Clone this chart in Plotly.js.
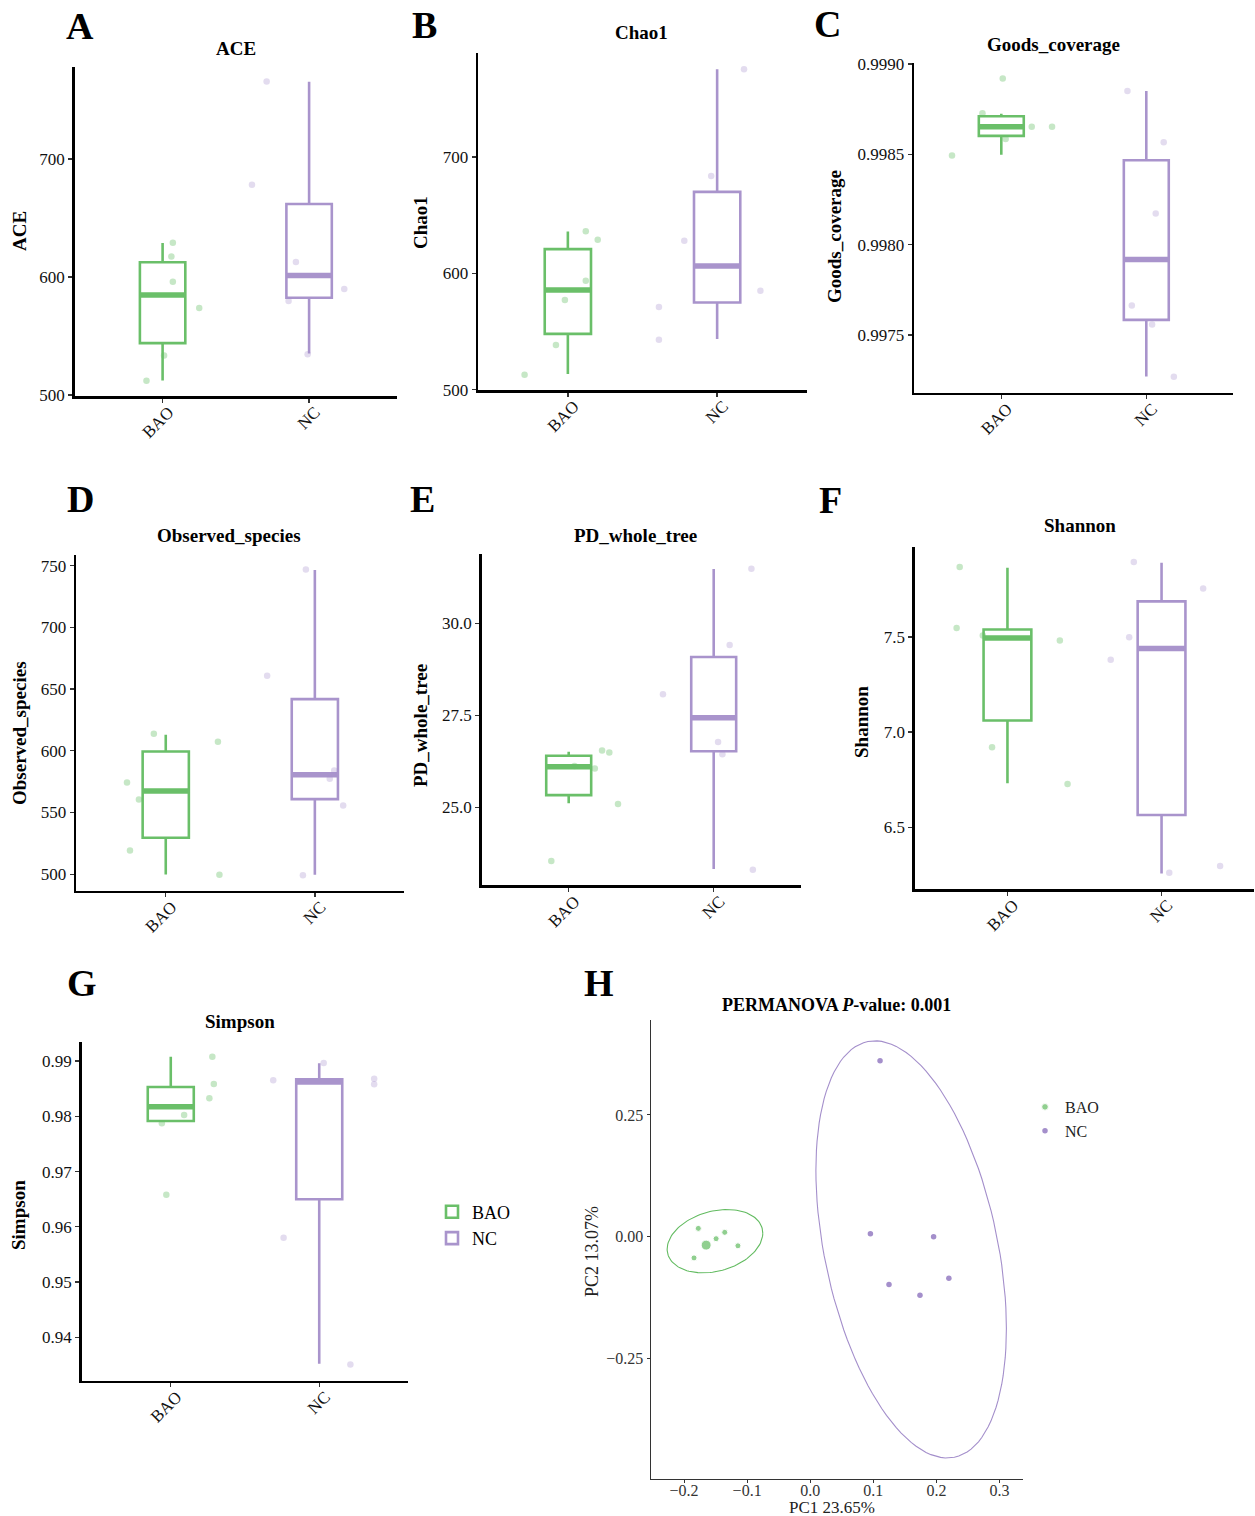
<!DOCTYPE html>
<html><head><meta charset="utf-8">
<script src="https://cdn.plot.ly/plotly-3.0.1.min.js"></script>
<style>html,body{margin:0;padding:0;background:#fff}#chart{width:1255px;height:1516px}</style>
</head><body><div id="chart"></div>
<script>
// ---------- DATA ----------
const groups = ['BAO', 'NC'];
// box stats: [lower whisker, Q1, median, Q3, upper whisker]
const aceBAO = [512.4, 544.0, 584.7, 612.5, 628.8];
const aceNC = [535.3, 582.5, 601.4, 661.9, 765.5];
const aceBAOpts = [629.0, 617.5, 596.0, 573.7, 533.6, 512.1];
const aceBAOjit = [0.07, 0.06, 0.07, 0.25, 0.01, -0.11];
const aceNCpts = [765.8, 678.2, 612.7, 589.8, 579.7, 534.5];
const aceNCjit = [-0.29, -0.39, -0.09, 0.24, -0.14, -0.01];
const aceTicks = [500, 600, 700];
const aceTickLabels = ['500', '600', '700'];

const chaoBAO = [513.5, 548.0, 585.6, 620.8, 635.9];
const chaoNC = [543.5, 575.0, 606.4, 670.0, 775.3];
const chaoBAOpts = [636.2, 628.8, 593.6, 577.0, 538.4, 512.9];
const chaoBAOjit = [0.12, 0.20, 0.12, -0.02, -0.08, -0.29];
const chaoNCpts = [775.3, 683.7, 627.9, 585.0, 571.0, 542.9];
const chaoNCjit = [0.18, -0.04, -0.22, 0.29, -0.39, -0.39];
const chaoTicks = [500, 600, 700];
const chaoTickLabels = ['500', '600', '700'];

const goodsBAO = [0.998498, 0.998602, 0.998652, 0.998711, 0.998724];
const goodsNC = [0.997270, 0.997583, 0.997917, 0.998467, 0.998850];
const goodsBAOpts = [0.998920, 0.998728, 0.998652, 0.998652, 0.998585, 0.998493];
const goodsBAOjit = [0.01, -0.13, 0.21, 0.35, 0.03, -0.34];
const goodsNCpts = [0.998851, 0.998567, 0.998172, 0.997663, 0.997557, 0.997268];
const goodsNCjit = [-0.13, 0.12, 0.065, -0.10, 0.04, 0.19];
const goodsTicks = [0.9975, 0.9980, 0.9985, 0.9990];
const goodsTickLabels = ['0.9975', '0.9980', '0.9985', '0.9990'];

const obsBAO = [499.8, 529.5, 567.3, 599.4, 613.0];
const obsNC = [499.5, 560.8, 580.6, 641.8, 746.4];
const obsBAOpts = [613.8, 607.3, 574.3, 560.5, 519.2, 499.5];
const obsBAOjit = [-0.08, 0.35, -0.26, -0.18, -0.24, 0.36];
const obsNCpts = [746.8, 660.7, 584.0, 577.3, 555.7, 499.1];
const obsNCjit = [-0.06, -0.32, 0.13, 0.10, 0.19, -0.08];
const obsTicks = [500, 550, 600, 650, 700, 750];
const obsTickLabels = ['500', '550', '600', '650', '700', '750'];

const pdBAO = [25.11, 25.33, 26.10, 26.40, 26.51];
const pdNC = [23.32, 26.52, 27.43, 29.08, 31.47];
const pdBAOpts = [26.54, 26.49, 26.05, 26.12, 25.09, 23.54];
const pdBAOjit = [0.23, 0.28, 0.18, 0.04, 0.34, -0.12];
const pdNCpts = [31.48, 29.41, 28.07, 26.77, 26.44, 23.30];
const pdNCjit = [0.26, 0.11, -0.35, 0.03, 0.06, 0.27];
const pdTicks = [25.0, 27.5, 30.0];
const pdTickLabels = ['25.0', '27.5', '30.0'];

const shanBAO = [6.731, 7.061, 7.495, 7.539, 7.864];
const shanNC = [6.258, 6.565, 7.439, 7.687, 7.890];
const shanBAOpts = [7.867, 7.547, 7.507, 7.481, 6.920, 6.727];
const shanBAOjit = [-0.31, -0.33, -0.16, 0.34, -0.10, 0.39];
const shanNCpts = [7.894, 7.754, 7.498, 7.380, 6.297, 6.262];
const shanNCjit = [-0.18, 0.27, -0.21, -0.33, 0.38, 0.05];
const shanTicks = [6.5, 7.0, 7.5];
const shanTickLabels = ['6.5', '7.0', '7.5'];

const simpBAO = [0.9789, 0.97915, 0.98174, 0.98530, 0.99078];
const simpNC = [0.93520, 0.96499, 0.98620, 0.98669, 0.98958];
const simpBAOpts = [0.99078, 0.98584, 0.98325, 0.98024, 0.97873, 0.96582];
const simpBAOjit = [0.28, 0.29, 0.26, 0.09, -0.06, -0.03];
const simpNCpts = [0.98964, 0.98651, 0.98680, 0.98578, 0.95801, 0.93510];
const simpNCjit = [0.03, -0.31, 0.37, 0.37, -0.24, 0.21];
const simpTicks = [0.94, 0.95, 0.96, 0.97, 0.98, 0.99];
const simpTickLabels = ['0.94', '0.95', '0.96', '0.97', '0.98', '0.99'];

// PCoA
const pcoaBAOx = [-0.1774, -0.1355, -0.1492, -0.1650, -0.1146, -0.1842];
const pcoaBAOy = [0.0167, 0.0086, -0.0045, -0.0177, -0.0191, -0.0440];
const pcoaNCx = [0.1107, 0.0954, 0.1956, 0.2198, 0.1249, 0.1740];
const pcoaNCy = [0.3615, 0.0059, -0.0006, -0.0858, -0.0989, -0.1209];
// ellipse: [centre x, centre y, x half-extent, y half-extent, correlation]
const baoEllipse = [-0.151, -0.0096, 0.0758, 0.0651, 0.253];
const ncEllipse = [0.160, -0.0265, 0.151, 0.429, -0.379];
const pcoaXTicks = [-0.2, -0.1, 0.0, 0.1, 0.2, 0.3];
const pcoaXTickLabels = ['\u22120.2', '\u22120.1', '0.0', '0.1', '0.2', '0.3'];
const pcoaYTicks = [-0.25, 0.0, 0.25];
const pcoaYTickLabels = ['\u22120.25', '0.00', '0.25'];

// ---------- STYLE / LAYOUT ----------
const W = 1255, H = 1516;
const SERIF = 'Liberation Serif, Times New Roman, serif';
const lineCol = ['#6abf69', '#a994cc'];
const ptCol = ['rgba(106,191,105,0.38)', 'rgba(169,147,204,0.32)'];
const pcoaCol = ['#62bb60', '#a48fcb'];
const BOXW = 0.31;

const fx = p => p / W;
const fy = p => 1 - p / H;

const panels = [
  {L:'A', title:'ACE', ylab:'ACE', box:[aceBAO, aceNC], pts:[aceBAOpts, aceNCpts], jit:[aceBAOjit, aceNCjit],
   ticks:aceTicks, tl:aceTickLabels, yr:[499.2, 778], dom:[74.7, 397, 67, 396], lp:[80, 26], tp:[236, 48], yp:[19, 231]},
  {L:'B', title:'Chao1', ylab:'Chao1', box:[chaoBAO, chaoNC], pts:[chaoBAOpts, chaoNCpts], jit:[chaoBAOjit, chaoNCjit],
   ticks:chaoTicks, tl:chaoTickLabels, yr:[499.8, 789], dom:[478.3, 806.7, 53.3, 390], lp:[425, 25], tp:[641, 33], yp:[420, 223]},
  {L:'C', title:'Goods_coverage', ylab:'Goods_coverage', box:[goodsBAO, goodsNC], pts:[goodsBAOpts, goodsNCpts], jit:[goodsBAOjit, goodsNCjit],
   ticks:goodsTicks, tl:goodsTickLabels, yr:[0.997180, 0.999004], dom:[914.3, 1233.3, 63.3, 392.7], lp:[827, 24], tp:[1053, 45], yp:[835, 237]},
  {L:'D', title:'Observed_species', ylab:'Observed_species', box:[obsBAO, obsNC], pts:[obsBAOpts, obsNCpts], jit:[obsBAOjit, obsNCjit],
   ticks:obsTicks, tl:obsTickLabels, yr:[486.6, 758.6], dom:[76.3, 404.3, 555, 890.7], lp:[80, 499], tp:[229, 535], yp:[19, 733]},
  {L:'E', title:'PD_whole_tree', ylab:'PD_whole_tree', box:[pdBAO, pdNC], pts:[pdBAOpts, pdNCpts], jit:[pdBAOjit, pdNCjit],
   ticks:pdTicks, tl:pdTickLabels, yr:[22.88, 31.88], dom:[481.7, 800.7, 554, 885.3], lp:[422, 499], tp:[635, 535], yp:[421, 726]},
  {L:'F', title:'Shannon', ylab:'Shannon', box:[shanBAO, shanNC], pts:[shanBAOpts, shanNCpts], jit:[shanBAOjit, shanNCjit],
   ticks:shanTicks, tl:shanTickLabels, yr:[6.176, 7.974], dom:[915, 1254, 546.7, 889], lp:[830, 500], tp:[1080, 525], yp:[861, 722]},
  {L:'G', title:'Simpson', ylab:'Simpson', box:[simpBAO, simpNC], pts:[simpBAOpts, simpNCpts], jit:[simpBAOjit, simpNCjit],
   ticks:simpTicks, tl:simpTickLabels, yr:[0.93215, 0.9935], dom:[81.7, 408.3, 1041.7, 1380.7], lp:[82, 983], tp:[240, 1021], yp:[18, 1215]}
];

const traces = [];
const annotations = [];
const layout = {
  width: W, height: H,
  margin: {l:0, r:0, t:0, b:0},
  paper_bgcolor: '#fff', plot_bgcolor: 'rgba(0,0,0,0)',
  font: {family: SERIF, color: '#000'},
  showlegend: true,
  annotations: annotations,
  legend: {x: fx(432), y: fy(1225), xanchor: 'left', yanchor: 'middle', bgcolor: 'rgba(0,0,0,0)',
           font: {family: SERIF, size: 18, color: '#000'}, traceorder: 'normal'},
  legend2: {x: fx(1025), y: fy(1119), xanchor: 'left', yanchor: 'middle', bgcolor: 'rgba(0,0,0,0)',
            font: {family: SERIF, size: 16, color: '#222'}, traceorder: 'normal', tracegroupgap: 0}
};

function ann(text, x, y, size, opts) {
  annotations.push(Object.assign({text: text, x: fx(x), y: fy(y), xref: 'paper', yref: 'paper',
    xanchor: 'center', yanchor: 'middle', showarrow: false,
    font: {family: SERIF, size: size, color: '#000'}}, opts || {}));
}

panels.forEach((p, i) => {
  const n = i + 1;
  const xa = 'xaxis' + (n === 1 ? '' : n), ya = 'yaxis' + (n === 1 ? '' : n);
  const xr = 'x' + (n === 1 ? '' : n), yr = 'y' + (n === 1 ? '' : n);
  const common = {showline: true, linewidth: 2.6, linecolor: '#000', ticks: 'outside', ticklen: 4,
    tickwidth: 1.3, tickcolor: '#333', showgrid: false, zeroline: false, fixedrange: true,
    tickfont: {family: SERIF, size: 17, color: '#111'}};
  layout[xa] = Object.assign({}, common, {domain: [fx(p.dom[0]), fx(p.dom[1])], range: [0.4, 2.6],
    tickvals: [1, 2], ticktext: groups, tickangle: -45, anchor: yr,
    ticklabelstandoff: -7, ticklabelshift: 6});
  layout[ya] = Object.assign({}, common, {domain: [fy(p.dom[3]), fy(p.dom[2])], range: p.yr,
    tickvals: p.ticks, ticktext: p.tl, anchor: xr});

  groups.forEach((g, k) => {
    const s = p.box[k];
    traces.push({type: 'box', x: [k + 1], lowerfence: [s[0]], q1: [s[1]], median: [s[2]], q3: [s[3]],
      upperfence: [s[4]], width: BOXW, whiskerwidth: 0, boxpoints: false, name: g,
      line: {color: lineCol[k], width: 2.6}, fillcolor: 'rgba(255,255,255,0)',
      xaxis: xr, yaxis: yr, showlegend: n === 7, legend: 'legend', hoverinfo: 'skip'});
    traces.push({type: 'scatter', mode: 'lines', x: [k + 1 - BOXW / 2, k + 1 + BOXW / 2], y: [s[2], s[2]],
      line: {color: lineCol[k], width: 5.5}, xaxis: xr, yaxis: yr, showlegend: false, hoverinfo: 'skip'});
    traces.push({type: 'scatter', mode: 'markers', x: p.jit[k].map(j => k + 1 + j), y: p.pts[k],
      marker: {color: ptCol[k], size: 6.5}, xaxis: xr, yaxis: yr, showlegend: false, hoverinfo: 'skip'});
  });

  ann(p.L, p.lp[0], p.lp[1], 38, {font: {family: SERIF, size: 38, color: '#000', weight: 'bold'}});
  ann(p.title, p.tp[0], p.tp[1], 19, {font: {family: SERIF, size: 19, color: '#000', weight: 'bold'}});
  ann(p.ylab, p.yp[0], p.yp[1], 19, {textangle: -90, font: {family: SERIF, size: 19, color: '#000', weight: 'bold'}});
});

// ---------- PANEL H (PCoA) ----------
const hCommon = {showline: true, linewidth: 1, linecolor: '#333', ticks: 'outside', ticklen: 3,
  tickwidth: 1, tickcolor: '#333', showgrid: false, zeroline: false, fixedrange: true,
  tickfont: {family: SERIF, size: 16, color: '#333'}};
layout.xaxis8 = Object.assign({}, hCommon, {domain: [fx(650.5), fx(1023.3)], range: [-0.2532, 0.3378],
  tickvals: pcoaXTicks, ticktext: pcoaXTickLabels, anchor: 'y8', ticklabelstandoff: -6});
layout.yaxis8 = Object.assign({}, hCommon, {domain: [fy(1478.5), fy(1019.9)], range: [-0.4977, 0.4455],
  tickvals: pcoaYTicks, ticktext: pcoaYTickLabels, anchor: 'x8'});

function ellipsePath(e) {
  const xs = [], ys = [];
  const m21 = e[4] * e[3], m22 = e[3] * Math.sqrt(1 - e[4] * e[4]);
  for (let t = 0; t <= 120; t++) {
    const a = t / 120 * 2 * Math.PI;
    xs.push(e[0] + e[2] * Math.cos(a));
    ys.push(e[1] + m21 * Math.cos(a) + m22 * Math.sin(a));
  }
  return {x: xs, y: ys};
}
[baoEllipse, ncEllipse].forEach((e, k) => {
  const pth = ellipsePath(e);
  traces.push({type: 'scatter', mode: 'lines', x: pth.x, y: pth.y, line: {color: pcoaCol[k], width: 1.1},
    xaxis: 'x8', yaxis: 'y8', showlegend: false, hoverinfo: 'skip'});
});
traces.push({type: 'scatter', mode: 'markers', name: 'BAO', x: pcoaBAOx, y: pcoaBAOy,
  marker: {color: pcoaCol[0], size: [6, 6, 6, 10, 6, 6]}, xaxis: 'x8', yaxis: 'y8', legend: 'legend2', hoverinfo: 'skip'});
traces.push({type: 'scatter', mode: 'markers', name: 'NC', x: pcoaNCx, y: pcoaNCy,
  marker: {color: pcoaCol[1], size: 5.5}, xaxis: 'x8', yaxis: 'y8', legend: 'legend2', hoverinfo: 'skip'});

ann('H', 599, 983, 38, {font: {family: SERIF, size: 38, color: '#000', weight: 'bold'}});
ann('<b>PERMANOVA <i>P</i>-value: 0.001</b>', 836, 1005, 18);
ann('PC1 23.65%', 832, 1507, 17, {font: {family: SERIF, size: 17, color: '#222'}});
ann('PC2 13.07%', 592, 1252, 18, {textangle: -90, font: {family: SERIF, size: 18, color: '#222'}});

Plotly.newPlot('chart', traces, layout, {staticPlot: true, displayModeBar: false});
</script>
</body></html>
